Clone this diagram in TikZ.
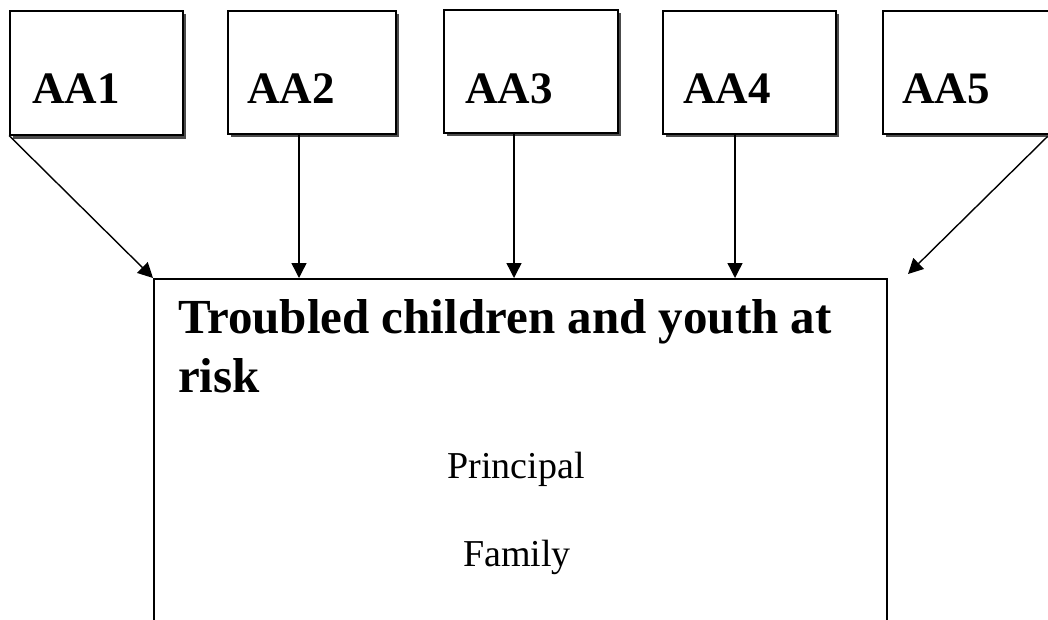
\documentclass[tikz,border=0pt]{standalone}
\usepackage{fontspec}
\setmainfont{Liberation Serif}
\usetikzlibrary{arrows.meta,calc}
\begin{document}
\begin{tikzpicture}[x=1pt,y=-1pt,
  aabox/.style={draw=black,line width=1.5pt,fill=white,minimum height=124pt,anchor=north west,inner sep=0pt},
  shade/.style={fill=black!70},
  aalabel/.style={anchor=base west,inner sep=0pt,font=\fontsize{45}{54}\selectfont\bfseries},
  conn/.style={line width=1.4pt,-{Triangle[length=15pt,width=15pt]}},
  mainbox/.style={draw=black,line width=1.5pt,anchor=north west,inner sep=0pt,minimum width=733pt,minimum height=420pt},
  titletext/.style={anchor=base west,inner sep=0pt,align=left,font=\fontsize{49}{59}\selectfont\bfseries},
  bodytext/.style={anchor=base,inner sep=0pt,font=\fontsize{38}{46}\selectfont}
  ]
\useasboundingbox (0,0) rectangle (1048,619);
\clip (0,0) rectangle (1048,619);
% shadows
\fill[shade] (13,14) rectangle (186,139);
\fill[shade] (231,14) rectangle (399,137);
\fill[shade] (447,13) rectangle (621,136);
\fill[shade] (666,14) rectangle (839,137);
\fill[shade] (886,14) rectangle (1054,137);
% boxes
\node[aabox,minimum width=173pt] (aa1) at (9,10) {};
\node[aabox,minimum width=168pt,minimum height=123pt] (aa2) at (227,10) {};
\node[aabox,minimum width=174pt,minimum height=123pt] (aa3) at (443,9) {};
\node[aabox,minimum width=173pt,minimum height=123pt] (aa4) at (662,10) {};
\node[aabox,minimum width=168pt,minimum height=123pt] (aa5) at (882,10) {};
\node[aalabel] (t1) at ($(aa1.north west)+(23,93)$) {AA1};
\node[aalabel] (t2) at ($(aa2.north west)+(20,93)$) {AA2};
\node[aalabel] (t3) at ($(aa3.north west)+(22,94)$) {AA3};
\node[aalabel] (t4) at ($(aa4.north west)+(21,93)$) {AA4};
\node[aalabel] (t5) at ($(aa5.north west)+(20,93)$) {AA5};
% main box
\node[mainbox] (main) at (153,278) {};
\node[titletext] (title) at (178,392) {Troubled children and youth at\\risk};
\node[bodytext] (princ) at (516,478) {Principal};
\node[bodytext] (fam) at (517,566) {Family};
% connectors
\coordinate (tip5) at (908,274);
\draw[conn] (aa1.south west) -- (main.north west);
\draw[conn] (aa2.south -| 299,0) -- (main.north -| 299,0);
\draw[conn] (aa3.south -| 514,0) -- (main.north -| 514,0);
\draw[conn] (aa4.south -| 735,0) -- (main.north -| 735,0);
\draw[conn] (aa5.south east) ++(-4,2) -- (tip5);
\end{tikzpicture}
\end{document}
